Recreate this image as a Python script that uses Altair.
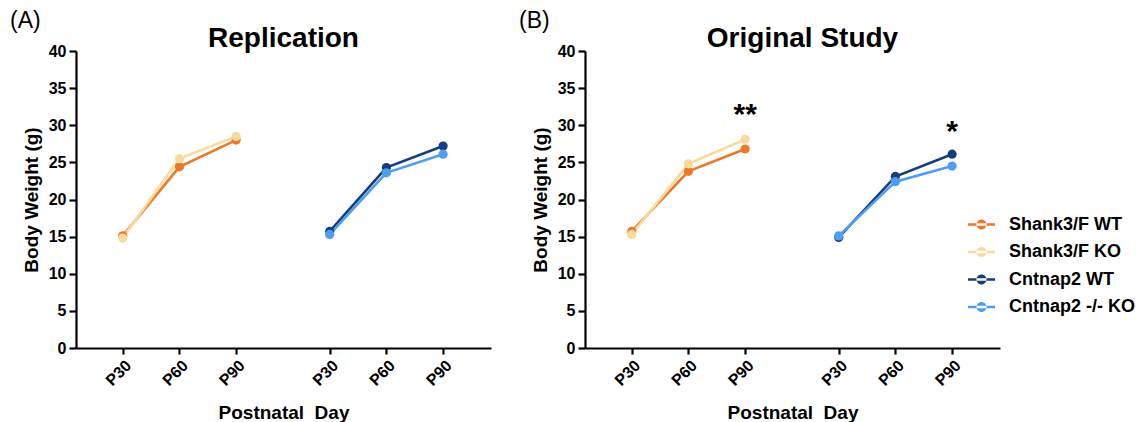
import altair as alt
import pandas as pd

# ---- data ----
series_names = ["Shank3/F WT", "Shank3/F KO", "Cntnap2 WT", "Cntnap2 -/- KO"]
series_colors = ["#EA7A28", "#F9DA9C", "#173E7C", "#4D9EF3"]
day_labels = ["P30", "P60", "P90"]
shank_pos = [1.0, 2.0, 3.0]
cnt_pos = [4.65, 5.65, 6.65]
y_tick_step = 5

# Replication (A)
rep_shank_wt = [15.1, 24.4, 28.0]
rep_shank_ko = [14.8, 25.5, 28.5]
rep_cnt_wt = [15.7, 24.3, 27.2]
rep_cnt_ko = [15.3, 23.6, 26.1]

# Original study (B)
orig_shank_wt = [15.7, 23.8, 26.8]
orig_shank_ko = [15.3, 24.8, 28.1]
orig_cnt_wt = [14.9, 23.1, 26.1]
orig_cnt_ko = [15.1, 22.4, 24.5]

# significance marks (B)
star_text = ["**", "*"]
star_pos = [3.0, 6.65]
star_y = [31.6, 29.3]

FONT = "Liberation Sans"


def make_df(sw, sk, cw, ck):
    rows = []
    for name, pos, vals in [
        (series_names[0], shank_pos, sw),
        (series_names[1], shank_pos, sk),
        (series_names[2], cnt_pos, cw),
        (series_names[3], cnt_pos, ck),
    ]:
        for i in range(3):
            rows.append({"series": name, "x": pos[i], "day": day_labels[i],
                         "weight": vals[i]})
    return pd.DataFrame(rows)


df_a = make_df(rep_shank_wt, rep_shank_ko, rep_cnt_wt, rep_cnt_ko)
df_b = make_df(orig_shank_wt, orig_shank_ko, orig_cnt_wt, orig_cnt_ko)
df_stars = pd.DataFrame({"x": star_pos, "y": star_y, "t": star_text})

tick_vals = shank_pos + cnt_pos
label_expr = " : ".join(
    f"abs(datum.value - {v}) < 0.01 ? '{day_labels[i % 3]}'" for i, v in enumerate(tick_vals)
) + " : ''"

x_scale = alt.Scale(domain=[0.176, 7.495], nice=False, zero=False)
y_scale = alt.Scale(domain=[0, 40], nice=False)
color_scale = alt.Scale(domain=series_names, range=series_colors)


def x_axis():
    return alt.Axis(values=tick_vals, labelExpr=label_expr, labelAngle=-45,
                    title="Postnatal\u00a0\u00a0Day", titlePadding=15, grid=False,
                    tickSize=6)


def y_axis():
    return alt.Axis(tickCount=8, tickMinStep=y_tick_step, title="Body Weight (g)",
                    titlePadding=7, grid=False, labelOverlap=False,
                    labelSeparation=0)


legend_symbol = ("M-1,-0.085L1,-0.085L1,0.085L-1,0.085Z "
                 "M-0.37,0A0.37,0.37,0,1,0,0.37,0A0.37,0.37,0,1,0,-0.37,0Z")


def panel(df, title, letter, show_legend, title_x):
    base = alt.Chart(df)
    if show_legend:
        leg = alt.Legend(title=None, orient="none", legendX=383, legendY=160,
                         symbolType=legend_symbol, symbolSize=729,
                         symbolStrokeWidth=0, labelFont=FONT, labelFontSize=18,
                         labelFontWeight="bold", labelColor="black",
                         labelOffset=14, rowPadding=4.5, padding=0)
    else:
        leg = None
    color = alt.Color("series:N", scale=color_scale, legend=leg,
                      sort=series_names)
    xq = alt.X("x:Q", scale=x_scale, axis=x_axis())
    yq = alt.Y("weight:Q", scale=y_scale, axis=y_axis())
    lines = base.mark_line(strokeWidth=2.6).encode(
        x=xq, y=yq, color=color, detail="series:N", order="x:Q",
    )
    pts = base.mark_point(filled=True, size=85, opacity=1).encode(
        x=xq, y=yq, color=color,
    )
    lab = alt.Chart(pd.DataFrame({"t": [letter]})).mark_text(
        font=FONT, fontSize=23, align="left", baseline="top", color="black"
    ).encode(text="t:N", x=alt.value(-66), y=alt.value(-41))
    ttl = alt.Chart(pd.DataFrame({"t": [title]})).mark_text(
        font=FONT, fontSize=28, fontWeight="bold", align="center",
        baseline="alphabetic", color="black"
    ).encode(text="t:N", x=alt.value(title_x), y=alt.value(-4))
    layers = [lines, pts, lab, ttl]
    if show_legend:
        stars = alt.Chart(df_stars).mark_text(
            font=FONT, fontSize=30, fontWeight="bold", baseline="middle",
            color="black", dy=2
        ).encode(x=alt.X("x:Q", scale=x_scale, axis=x_axis()),
                 y=alt.Y("y:Q", scale=y_scale, axis=y_axis()), text="t:N")
        layers.append(stars)
    return alt.layer(*layers).properties(width=415, height=297)


pa = panel(df_a, "Replication", "(A)", False, 207.5)
pb = panel(df_b, "Original Study", "(B)", True, 217.5)

chart = alt.hconcat(pa, pb, spacing=94, bounds="flush").resolve_legend(
    color="independent"
).properties(
    padding={"left": 10, "top": 10, "right": 5, "bottom": 2}
).configure_view(stroke=None).configure_axis(
    domainColor="black", domainWidth=2.2, tickColor="black", tickWidth=2.2,
    tickSize=7, labelFont=FONT, labelFontSize=16, labelFontWeight="bold",
    labelColor="black", titleFont=FONT, titleFontSize=19, titleFontWeight="bold",
    titleColor="black", labelPadding=3, labelOverlap=False,
)

chart.save("out.html", embed_options={"renderer": "svg", "actions": False})
